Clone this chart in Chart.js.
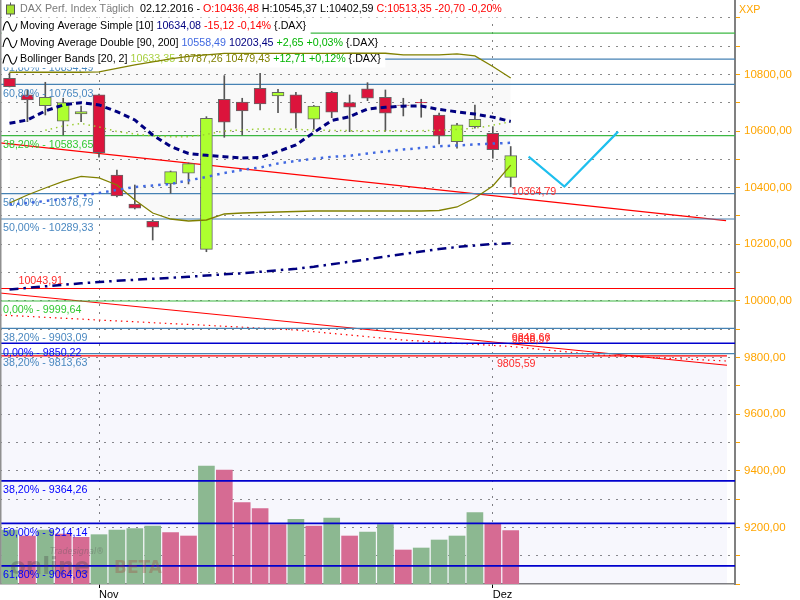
<!DOCTYPE html>
<html>
<head>
<meta charset="utf-8">
<title>DAX Perf. Index Täglich</title>
<script src="https://cdn.jsdelivr.net/npm/chart.js@4.4.1/dist/chart.umd.min.js"></script>
<style>
  html, body { margin: 0; padding: 0; background: #fff; }
</style>
</head>
<body>
<canvas id="daxChart" width="800" height="600"></canvas>
<script>
// Kursdaten DAX, Tageskerzen
const dates = ['25.10.2016', '26.10.2016', '27.10.2016', '28.10.2016', '31.10.2016',
  '01.11.2016', '02.11.2016', '03.11.2016', '04.11.2016', '07.11.2016', '08.11.2016',
  '09.11.2016', '10.11.2016', '11.11.2016', '14.11.2016', '15.11.2016', '16.11.2016',
  '17.11.2016', '18.11.2016', '21.11.2016', '22.11.2016', '23.11.2016', '24.11.2016',
  '25.11.2016', '28.11.2016', '29.11.2016', '30.11.2016', '01.12.2016', '02.12.2016'];
const monthNames = ['Jan', 'Feb', 'Mär', 'Apr', 'Mai', 'Jun', 'Jul', 'Aug', 'Sep', 'Okt', 'Nov', 'Dez'];

const opens = [10786.6, 10727.6, 10689.8, 10634.6, 10660.4, 10727.6, 10444.9, 10342.4, 10281.3, 10413.1,
  10450.9, 10182.3, 10712.4, 10702.8, 10751.2, 10724.0, 10727.6, 10641.7, 10737.1, 10700.4,
  10748.8, 10719.4, 10692.2, 10701.8, 10656.9, 10562.5, 10615.5, 10592.2, 10436.48];
const highs = [10805.3, 10745.2, 10772.4, 10715.9, 10688.7, 10731.0, 10462.5, 10409.5, 10285.9, 10459.0,
  10487.3, 10650.9, 10795.8, 10715.9, 10804.2, 10747.7, 10737.1, 10690.5, 10740.0, 10727.6,
  10771.0, 10745.2, 10715.9, 10712.4, 10663.9, 10627.6, 10692.2, 10615.5, 10545.37];
const lows = [10755.8, 10633.2, 10656.9, 10586.2, 10633.2, 10507.4, 10367.0, 10324.7, 10215.2, 10380.2,
  10413.1, 10173.8, 10578.1, 10586.2, 10674.6, 10665.0, 10609.9, 10606.4, 10647.3, 10597.9,
  10707.4, 10601.4, 10653.4, 10648.8, 10554.4, 10539.2, 10609.9, 10503.9, 10402.59];
const closes = [10756.9, 10709.9, 10719.4, 10700.4, 10668.5, 10523.7, 10370.7, 10327.2, 10260.1, 10456.5,
  10484.8, 10645.2, 10631.1, 10671.0, 10695.8, 10737.1, 10662.9, 10688.7, 10666.4, 10684.1,
  10715.9, 10662.9, 10690.5, 10699.3, 10582.7, 10621.6, 10641.7, 10534.05, 10513.35];
// Volumen (Mio. Stück, geschätzt)
const volumes = [81, 72, 81, 75, 70, 74, 81, 83, 87, 77, 72, 177, 171, 122, 113, 89, 97, 87, 99, 72,
  78, 89, 51, 54, 66, 72, 107, 90, 80];

// Indikatoren
const sma10 = [10627.6, 10639.2, 10671.0, 10692.2, 10700.4, 10692.2, 10668.5, 10639.2, 10586.2, 10545.6,
  10520.8, 10514.5, 10509.5, 10505.0, 10506.7, 10527.9, 10550.9, 10594.7, 10637.5, 10650.9,
  10678.1, 10684.1, 10688.0, 10688.7, 10676.3, 10668.2, 10660.0, 10649.20, 10634.08];
const ma90 = [10340.6, 10345.9, 10353.0, 10360.0, 10371.4, 10381.3, 10392.0, 10402.5, 10407.8, 10413.0,
  10425.6, 10438.0, 10452.0, 10462.6, 10471.4, 10485.6, 10494.3, 10502.5, 10509.2, 10512.7,
  10520.8, 10527.9, 10535.0, 10540.3, 10546.3, 10549.1, 10552.6, 10555.84, 10558.49];
const ma200 = [10040.3, 10046.2, 10051.6, 10056.9, 10062.2, 10066.8, 10071.0, 10074.6, 10078.1, 10081.7,
  10085.2, 10089.5, 10094.1, 10097.6, 10102.9, 10108.2, 10113.5, 10120.6, 10129.6, 10138.2,
  10147.0, 10156.9, 10165.7, 10174.6, 10183.4, 10190.4, 10195.8, 10200.80, 10203.45];
const bbMid = [null, null, 10602.6, 10618.0, 10626.9, 10614.5, 10598.6, 10589.7, 10582.7, 10580.2,
  10580.2, 10588.0, 10600.4, 10603.9, 10607.4, 10607.4, 10605.7, 10603.9, 10602.6, 10601.4,
  10601.4, 10601.4, 10601.4, 10601.4, 10602.8, 10605.7, 10610.0, 10620.64, 10633.35];
const bbUpper = [10807.8, 10807.8, 10807.8, 10807.8, 10807.8, 10808.8, 10821.2, 10833.6, 10844.2, 10854.8,
  10863.6, 10868.9, 10874.2, 10874.2, 10874.2, 10874.2, 10874.2, 10874.2, 10874.2, 10874.9,
  10874.9, 10874.9, 10868.9, 10868.9, 10868.9, 10872.4, 10865.4, 10828.3, 10787.26];
const bbLower = [10345.9, 10374.2, 10398.9, 10421.9, 10439.6, 10434.3, 10409.5, 10356.5, 10310.6, 10289.4,
  10282.3, 10285.9, 10307.1, 10310.6, 10312.4, 10314.1, 10315.9, 10317.7, 10317.7, 10317.7,
  10317.7, 10317.7, 10317.7, 10317.7, 10319.4, 10331.8, 10363.6, 10406.0, 10479.43];

// Fibonacci-/Horizontallinien
const levelValues = [10946.0, 10854.49, 10765.03, 10583.65, 10378.79, 10289.33, 10043.91, 9999.64,
  9903.09, 9850.22, 9813.63, 9805.59, 9364.26, 9214.14, 9064.03];
const levelPct = ['', '61,80%', '60,80%', '38,20%', '50,00%', '50,00%', '', '0,00%',
  '38,20%', '0,00%', '38,20%', '', '38,20%', '50,00%', '61,80%'];

// Trendlinien (x = Kerzenindex)
const trendAX = [-0.531, 40.03], trendAY = [10558.0, 10283.3];
const trendBX = [-0.531, 40.08], trendBY = [10027.9, 9772.8];
const trendCX = [-0.531, 5, 11, 16, 22, 28, 33, 40.08];
const trendCY = [9950.2, 9932.5, 9913.8, 9897.2, 9861.8, 9838.97, 9808.8, 9787.6];
const trendTexts = ['10364,79', '9848,66', '9838,97'];
// Projektion
const projX = [29, 31, 34], projY = [10510, 10404, 10598];

// ---- Darstellung ----
const X_MIN = -0.531, X_MAX = 40.53, OBJ_END = 40.08;
const Y_MIN = 9000, Y_MAX = 11063;
const RED = '#ff0000', STEEL = '#4682b4', GREEN = '#3cb843', BLUE = '#0000cd';
const TXT_FONT = '10.7px "Liberation Sans"';
const levelStyle = ['green', 'steel', 'steel', 'green', 'steel', 'steel', 'red', 'green',
  'steel', 'blue', 'steel', 'redEnd', 'blue', 'blue', 'blue'];
const lineColor = { green: GREEN, steel: STEEL, blue: BLUE, red: RED, redEnd: RED };
const textColor = { green: '#32c832', steel: '#4a88c0', blue: '#0000ff', red: '#ff2a2a', redEnd: '#ff2a2a' };

const fmt = v => v.toFixed(2).replace('.', ',');
const sgn = v => (v >= 0 ? '+' : '-') + fmt(Math.abs(v));
const pts = vals => vals.map((v, i) => ({ x: i, y: v }));
const xy = (xs, ys) => xs.map((x, i) => ({ x, y: ys[i] }));
const last = a => a[a.length - 1];
const prev = a => a[a.length - 2];

const monthTicks = [];
dates.forEach((d, i) => {
  const m = +d.split('.')[1];
  if (i > 0 && m !== +dates[i - 1].split('.')[1]) monthTicks.push({ value: i, label: monthNames[m - 1] });
});

const levelSets = levelValues.map((v, i) => {
  const st = levelStyle[i];
  return {
    type: 'line',
    data: [{ x: X_MIN, y: v }, { x: st === 'redEnd' ? OBJ_END : X_MAX, y: v }],
    borderColor: lineColor[st],
    borderWidth: st === 'blue' ? 1.6 : 1.2,
    backgroundColor: 'rgba(60,80,200,0.045)',
    fill: st === 'redEnd' ? 'start' : false,
    pointRadius: 0,
    order: st === 'redEnd' ? 100 : 50
  };
});

const lineSet = (data, color, width, dash, order) => ({
  type: 'line', data, borderColor: color, borderWidth: width, borderDash: dash,
  pointRadius: 0, fill: false, tension: 0, order
});

const volColors = volumes.map((v, i) => (i === 0 || v >= volumes[i - 1]) ? '#8cb891' : '#d66b93');

Chart.defaults.font.family = '"Liberation Sans", Arial, sans-serif';
Chart.defaults.font.size = 11;

// Beschriftungen + Legende: unter den Indikatoren, über Linien und Kerzen
function drawAnnotations(chart) {
  const { ctx, chartArea: a, scales: { x, y } } = chart;
  ctx.save();
  ctx.textBaseline = 'alphabetic';
  ctx.fillStyle = 'rgba(70,70,70,0.33)';
  ctx.font = 'bold 23px "DejaVu Sans"';
  ctx.fillText('online', a.left + 10, a.bottom - 10);
  ctx.fillStyle = 'rgba(160,70,60,0.33)';
  ctx.font = 'bold 17px "DejaVu Sans"';
  ctx.fillText('BETA', a.left + 114, a.bottom - 11);
  ctx.fillStyle = 'rgba(90,90,90,0.4)';
  ctx.font = 'italic 8px "DejaVu Sans"';
  ctx.fillText('Tradesignal®', a.left + 50, a.bottom - 30);

  ctx.font = TXT_FONT;
  ctx.textBaseline = 'middle';
  levelValues.forEach((v, i) => {
    const st = levelStyle[i];
    const py = y.getPixelForValue(v);
    ctx.fillStyle = textColor[st];
    if (st === 'red') ctx.fillText(fmt(v), x.getPixelForValue(0.5), py - 7);
    else if (st === 'redEnd') ctx.fillText(fmt(v), x.getPixelForValue(27.23), py + 8);
    else ctx.fillText(levelPct[i] + ' - ' + fmt(v), a.left + 3, py + 9.5);
  });
  const lx = x.getPixelForValue(28) + 1;
  const at = (xs, ys, t) => {
    for (let k = 1; k < xs.length; k++) {
      if (t <= xs[k]) return ys[k - 1] + (ys[k] - ys[k - 1]) * (t - xs[k - 1]) / (xs[k] - xs[k - 1]);
    }
    return last(ys);
  };
  ctx.fillStyle = '#ff2a2a';
  ctx.fillText(trendTexts[0], lx, y.getPixelForValue(at(trendAX, trendAY, 28)) - 6);
  ctx.fillText(trendTexts[1], lx, y.getPixelForValue(at(trendBX, trendBY, 28)) - 6);
  ctx.fillText(trendTexts[2], lx, y.getPixelForValue(at(trendCX, trendCY, 28)) - 6);

  const n = closes.length - 1;
  const chg = closes[n] - closes[n - 1];
  const smaChg = last(sma10) - prev(sma10);
  const maChg = last(ma90) - prev(ma90);
  const bbChg = last(bbMid) - prev(bbMid);
  const col = v => v >= 0 ? '#00b400' : '#ff0000';
  const rows = [
    [['DAX Perf. Index Täglich', '#7a7a7a'], ['  ' + dates[n] + ' - ', '#000'],
      ['O:' + fmt(opens[n]), '#ff0000'],
      [' H:' + fmt(highs[n]) + ' L:' + fmt(lows[n]) + ' ', '#000'],
      ['C:' + fmt(closes[n]) + ' ' + sgn(chg) + ' ' + sgn(chg / closes[n - 1] * 100) + '%', col(chg)]],
    [['Moving Average Simple [10] ', '#000'], [fmt(last(sma10)) + ' ', '#000080'],
      [sgn(smaChg) + ' ' + sgn(smaChg / prev(sma10) * 100) + '% ', col(smaChg)], ['{.DAX}', '#000']],
    [['Moving Average Double [90, 200] ', '#000'], [fmt(last(ma90)) + ' ', '#4169e1'],
      [fmt(last(ma200)) + ' ', '#000080'],
      [sgn(maChg) + ' ' + sgn(maChg / prev(ma90) * 100) + '% ', col(maChg)], ['{.DAX}', '#000']],
    [['Bollinger Bands [20, 2] ', '#000'], [fmt(last(bbMid)) + ' ', '#a8d040'],
      [fmt(last(bbUpper)) + ' ' + fmt(last(bbLower)) + ' ', '#808000'],
      [sgn(bbChg) + ' ' + sgn(bbChg / prev(bbMid) * 100) + '% ', col(bbChg)], ['{.DAX}', '#000']]
  ];
  const tops = [1, 18, 34.5, 51];
  rows.forEach((segs, r) => {
    const w = segs.reduce((s, [t]) => s + ctx.measureText(t).width, 0);
    const cy = tops[r] + 8.5;
    ctx.fillStyle = '#fff';
    ctx.fillRect(a.left + 1.5, tops[r], 20 + w + 3, 16.5);
    let px = a.left + 20;
    segs.forEach(([t, c]) => { ctx.fillStyle = c; ctx.fillText(t, px, cy); px += ctx.measureText(t).width; });
    if (r === 0) {
      ctx.strokeStyle = '#555';
      ctx.lineWidth = 1;
      ctx.beginPath(); ctx.moveTo(10.5, cy - 7); ctx.lineTo(10.5, cy + 7); ctx.stroke();
      ctx.fillStyle = '#a6e22e';
      ctx.fillRect(6.5, cy - 4.5, 8, 9);
      ctx.strokeRect(6.5, cy - 4.5, 8, 9);
    } else {
      ctx.strokeStyle = '#000';
      ctx.lineWidth = 1.1;
      ctx.beginPath();
      ctx.moveTo(3, cy + 4);
      ctx.bezierCurveTo(5, cy - 7, 8, cy - 7, 10, cy);
      ctx.bezierCurveTo(12, cy + 7, 15, cy + 6, 17, cy - 3);
      ctx.stroke();
    }
  });
  ctx.restore();
}

let BB_UPPER_INDEX = -1;
const overlay = {
  id: 'overlay',
  beforeDatasetDraw(chart, args) {
    if (args.index === BB_UPPER_INDEX) drawAnnotations(chart);
  },
  afterDraw(chart) {
    const { ctx, chartArea: a } = chart;
    ctx.save();
    ctx.fillStyle = '#909090';
    ctx.fillRect(a.left, a.top, 1.5, a.bottom - a.top);
    ctx.font = TXT_FONT;
    ctx.textBaseline = 'middle';
    ctx.fillStyle = '#ffa500';
    ctx.fillText('XXP', a.right + 4, 10);
    ctx.restore();
  }
};

const datasets = [
  ...levelSets,
  lineSet(xy(trendAX, trendAY), RED, 1.2, [], 50),
  lineSet(xy(trendBX, trendBY), RED, 1.2, [], 50),
  lineSet(xy(trendCX, trendCY), RED, 1.2, [1.5, 4], 50),
  {
    type: 'bar', data: pts(volumes), yAxisID: 'yv', backgroundColor: volColors,
    barThickness: 16, grouped: false, order: 60
  },
  {
    type: 'bar', data: lows.map((l, i) => ({ x: i, y: [l, highs[i]] })),
    backgroundColor: '#555', barThickness: 1, grouped: false, order: 30
  },
  {
    type: 'bar',
    data: opens.map((o, i) => ({ x: i, y: [Math.min(o, closes[i]), Math.max(o, closes[i])] })),
    backgroundColor: closes.map((c, i) => c >= opens[i] ? '#adff2f' : '#dc143c'),
    borderColor: '#666', borderWidth: 1, borderSkipped: false,
    barThickness: 12, grouped: false, order: 20
  },
  Object.assign(lineSet(pts(bbUpper), '#808000', 1.3, [], 13),
    { fill: '+1', backgroundColor: 'rgba(0,0,0,0.022)' }),
  lineSet(pts(bbLower), '#808000', 1.3, [], 12),
  lineSet(pts(bbMid), '#9acd32', 1.5, [1.5, 4], 11),
  lineSet(pts(ma90), '#4169e1', 2.5, [2.5, 5], 10),
  lineSet(pts(ma200), '#000080', 2.5, [9, 5, 2.5, 5], 10),
  lineSet(pts(sma10), '#000080', 3, [6, 4], 9),
  lineSet(xy(projX, projY), '#1ebfee', 2.2, [], 5)
];
BB_UPPER_INDEX = datasets.findIndex(d => d.order === 13);

new Chart(document.getElementById('daxChart'), {
  type: 'bar',
  data: { datasets },
  options: {
    responsive: false,
    devicePixelRatio: 1,
    animation: false,
    layout: { padding: 0 },
    plugins: {
      legend: { display: false },
      tooltip: { enabled: false },
      filler: { drawTime: 'beforeDatasetsDraw' }
    },
    scales: {
      x: {
        type: 'linear', min: X_MIN, max: X_MAX, offset: false,
        afterBuildTicks: axis => { axis.ticks = monthTicks.map(t => ({ value: t.value })); },
        afterFit: axis => { axis.height = 16; axis.paddingLeft = 0; axis.paddingRight = 0; },
        ticks: {
          autoSkip: false, maxRotation: 0, align: 'start', padding: 0, color: '#000',
          callback: v => (monthTicks.find(t => t.value === v) || {}).label || ''
        },
        grid: { color: '#808080', offset: false, tickColor: '#000', tickLength: 4 },
        border: { color: '#808080', width: 1.5, dash: [2, 6] }
      },
      y: {
        position: 'right', min: Y_MIN, max: Y_MAX,
        afterFit: axis => { axis.width = 65; axis.paddingTop = 0; axis.paddingBottom = 0; },
        ticks: {
          stepSize: 50, padding: 4, color: '#ffa500', font: { size: 11.5 },
          callback: v => (v % 200 === 0 && v > Y_MIN && v < 10900) ? fmt(v) : ''
        },
        grid: {
          color: c => (c.tick && c.tick.value % 100 === 0 && c.tick.value > Y_MIN) ? '#8a8a8a' : 'rgba(0,0,0,0)',
          tickColor: '#ffa500', tickLength: 5
        },
        border: { color: '#808080', width: 2, dash: [2, 6] }
      },
      yv: { display: false, min: 0, max: 876 }
    }
  },
  plugins: [overlay]
});
</script>
</body>
</html>
